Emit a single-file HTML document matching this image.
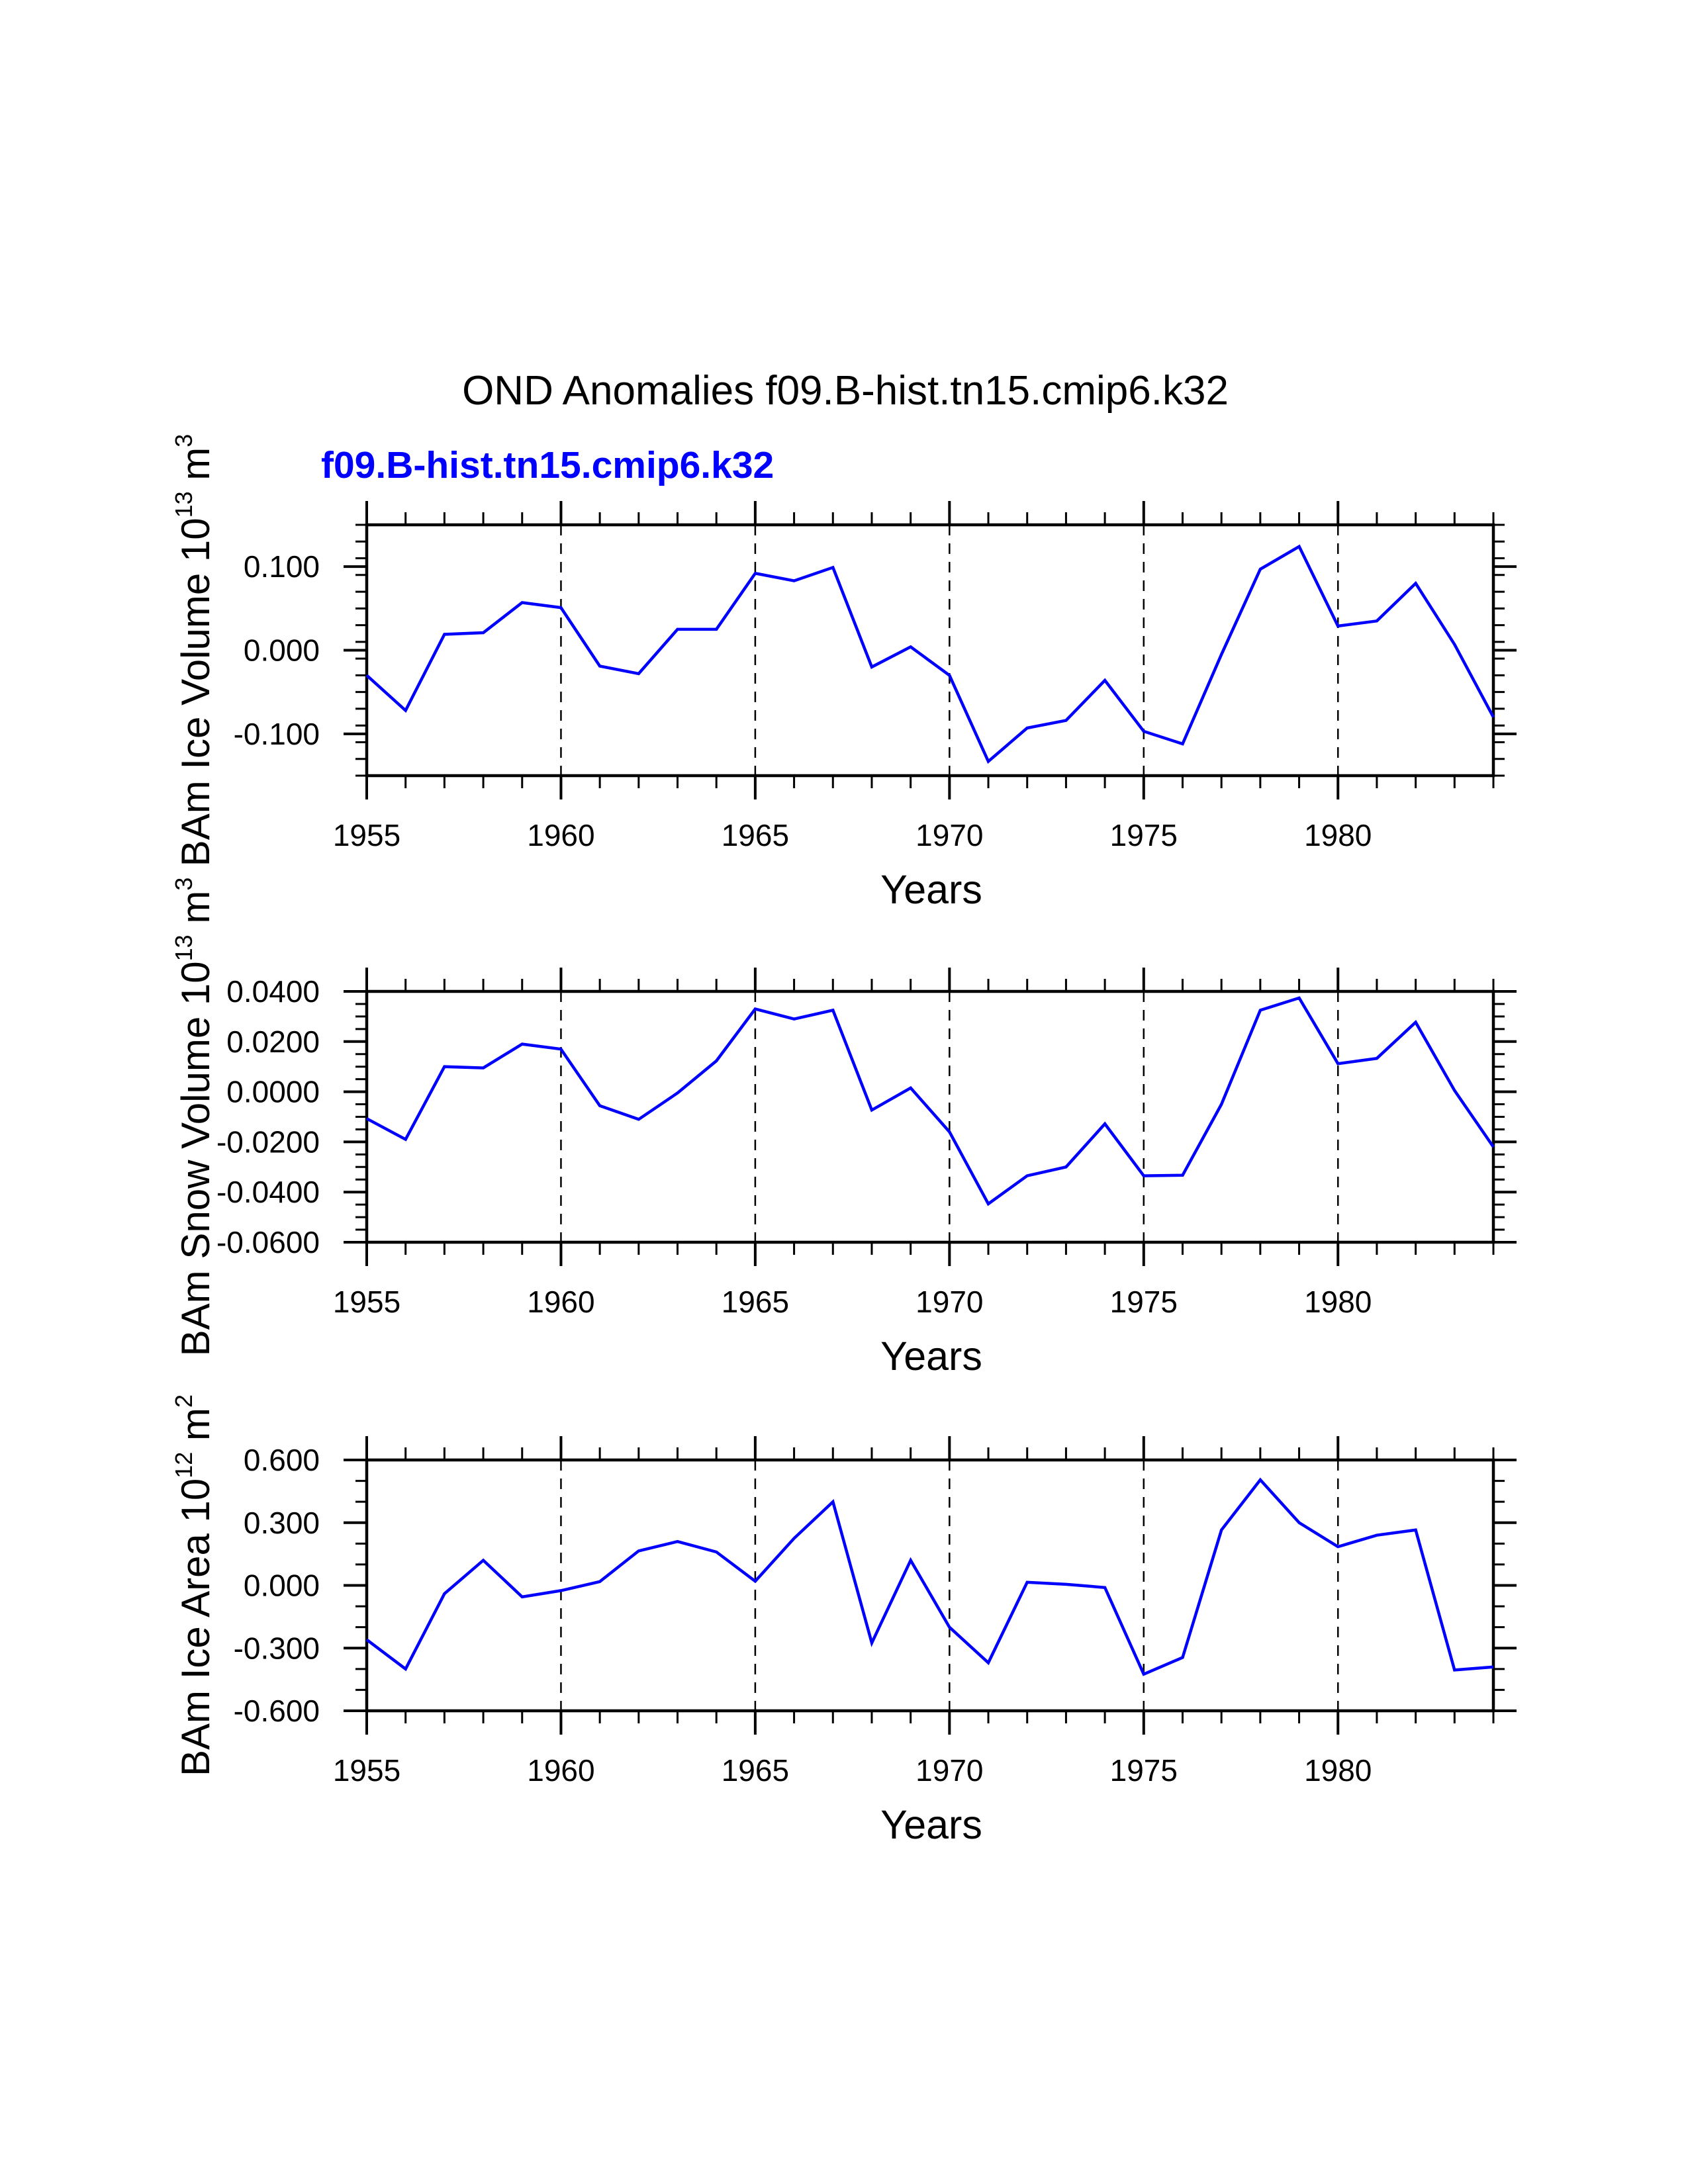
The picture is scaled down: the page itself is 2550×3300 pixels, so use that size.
<!DOCTYPE html>
<html><head><meta charset="utf-8">
<style>
html,body{margin:0;padding:0;background:#fff;}
svg{display:block;font-family:"Liberation Sans",sans-serif;}
</style></head>
<body>
<svg id="chart" width="2550" height="3300" viewBox="0 0 2550 3300">
<rect width="2550" height="3300" fill="#fff"/>
<text x="1277" y="611" font-size="62" text-anchor="middle">OND Anomalies f09.B-hist.tn15.cmip6.k32</text>
<text x="485" y="722" font-size="57" font-weight="bold" fill="#0000ff">f09.B-hist.tn15.cmip6.k32</text>
<g id="panels"></g>
</svg>
<script>
const years = [1955,1956,1957,1958,1959,1960,1961,1962,1963,1964,1965,1966,1967,1968,1969,1970,1971,1972,1973,1974,1975,1976,1977,1978,1979,1980,1981,1982,1983,1984];
const iceVolume = [-0.030,-0.072,0.019,0.021,0.057,0.051,-0.019,-0.028,0.025,0.025,0.092,0.083,0.099,-0.020,0.004,-0.030,-0.133,-0.093,-0.084,-0.036,-0.097,-0.112,-0.005,0.097,0.124,0.029,0.035,0.080,0.007,-0.080];
const snowVolume = [-0.0107,-0.019,0.010,0.0095,0.019,0.017,-0.0056,-0.011,-0.0005,0.0123,0.033,0.029,0.0325,-0.0073,0.0015,-0.016,-0.0447,-0.0335,-0.030,-0.0128,-0.0335,-0.0333,-0.005,0.0325,0.0374,0.0112,0.0133,0.0277,0.0005,-0.022];
const iceArea = [-0.26,-0.40,-0.04,0.12,-0.055,-0.025,0.018,0.165,0.21,0.16,0.02,0.225,0.40,-0.275,0.12,-0.20,-0.37,0.015,0.005,-0.01,-0.425,-0.345,0.265,0.505,0.30,0.185,0.24,0.265,-0.405,-0.39];
const xTickLabels = ["1955","1960","1965","1970","1975","1980"];
const iceVolTicks = ["-0.100","0.000","0.100"];
const snowTicks = ["-0.0600","-0.0400","-0.0200","0.0000","0.0200","0.0400"];
const areaTicks = ["-0.600","-0.300","0.000","0.300","0.600"];

const NS="http://www.w3.org/2000/svg";
const root=document.getElementById('panels');
function mk(tag,attrs,parent){const e=document.createElementNS(NS,tag);for(const k in attrs)e.setAttribute(k,attrs[k]);(parent||root).appendChild(e);return e;}

const X0=554,X1=2256;
function xs(yr){return X0+(yr-1955)/(1984-1955)*(X1-X0);}

function panel(name,top,bottom,ymin,ymax,data,ticks,minorStep,title,sup,unit,unitSup){
  const g=mk('g',{});
  
  
  const ys=v=>bottom-(v-ymin)/(ymax-ymin)*(bottom-top);
  for(let yr=1960;yr<=1980;yr+=5){
    const l=mk('line',{x1:xs(yr),x2:xs(yr),y1:top,y2:bottom,stroke:'#000','stroke-width':2.5,'stroke-dasharray':'16,12'},g);
    
    
  }
  for(let yr=1955;yr<=1984;yr++){
    const major=(yr%5===0);const len=major?36:19;const w=major?4:3;
    mk('line',{x1:xs(yr),x2:xs(yr),y1:bottom,y2:bottom+len,stroke:'#000','stroke-width':w},g);
    mk('line',{x1:xs(yr),x2:xs(yr),y1:top,y2:top-len,stroke:'#000','stroke-width':w},g);
  }
  xTickLabels.forEach(t=>{
    const tx=mk('text',{x:xs(+t),y:bottom+106,'font-size':46,'text-anchor':'middle'},g);
    tx.textContent=t;
    
    
  });
  const n=Math.round((ymax-ymin)/minorStep);
  for(let i=0;i<=n;i++){
    const v=ymin+i*minorStep;
    const y=ys(v);
    mk('line',{x1:X0,x2:X0-17,y1:y,y2:y,stroke:'#000','stroke-width':3},g);
    mk('line',{x1:X1,x2:X1+17,y1:y,y2:y,stroke:'#000','stroke-width':3},g);
  }
  ticks.forEach(t=>{
    const y=ys(parseFloat(t));
    mk('line',{x1:X0,x2:X0-35,y1:y,y2:y,stroke:'#000','stroke-width':4},g);
    mk('line',{x1:X1,x2:X1+35,y1:y,y2:y,stroke:'#000','stroke-width':4},g);
    const tx=mk('text',{x:483,y:y+16,'font-size':46,'text-anchor':'end'},g);
    tx.textContent=t;
    
    
  });
  const fr=mk('rect',{x:X0,y:top,width:X1-X0,height:bottom-top,fill:'none',stroke:'#000','stroke-width':4.5},g);
  
  
  const pts=data.map((v,i)=>xs(years[i]).toFixed(1)+','+ys(v).toFixed(1)).join(' ');
  const pl=mk('polyline',{points:pts,fill:'none',stroke:'#0000ff','stroke-width':4.5,'stroke-linejoin':'miter'},g);
  
  
  const xt=mk('text',{x:1407,y:bottom+193,'font-size':61,'text-anchor':'middle'},g);
  xt.textContent='Years';
  
  
  const cy=(top+bottom)/2;
  const yt=mk('text',{x:0,y:0,'font-size':60,'text-anchor':'middle',transform:'translate(316,'+cy+') rotate(-90)'},g);
  
  
  const s1=mk('tspan',{},yt);s1.textContent=title+' 10';
  const s2=mk('tspan',{dy:-26,'font-size':36},yt);s2.textContent=sup;
  const s3=mk('tspan',{dy:26},yt);s3.textContent=' '+unit;
  const s4=mk('tspan',{dy:-26,'font-size':36},yt);s4.textContent=unitSup;
}
panel('ice-volume',793,1172,-0.15,0.15,iceVolume,iceVolTicks,0.02,'BAm Ice Volume','13','m','3');
panel('snow-volume',1498,1877,-0.06,0.04,snowVolume,snowTicks,0.005,'BAm Snow Volume','13','m','3');
panel('ice-area',2206,2585,-0.6,0.6,iceArea,areaTicks,0.1,'BAm Ice Area','12','m','2');
</script>
</body></html>
